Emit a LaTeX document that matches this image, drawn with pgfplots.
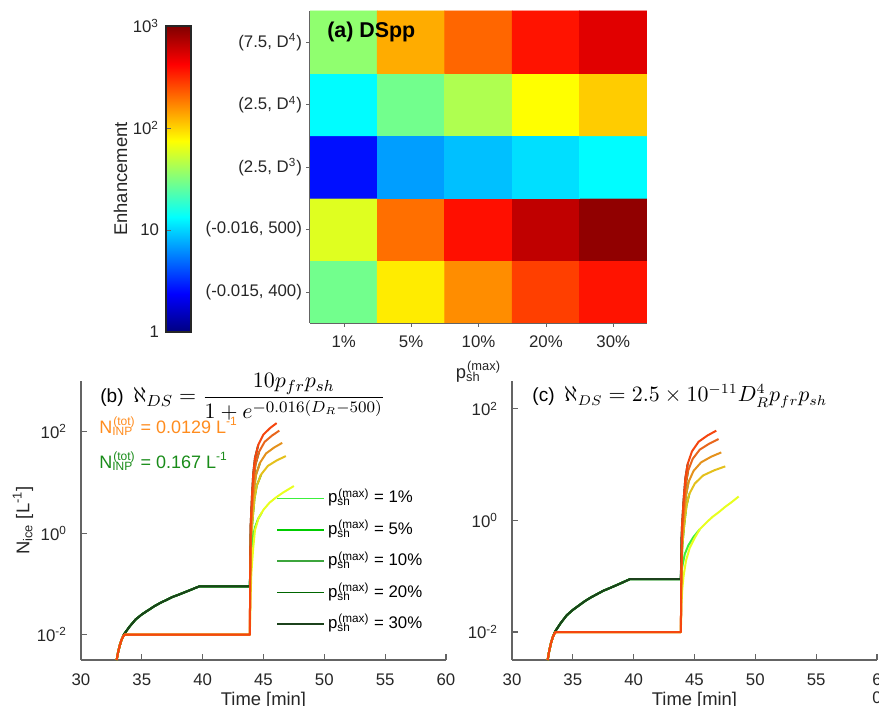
\documentclass[border=0pt]{standalone}
\usepackage[no-math]{fontspec}
\setmainfont{Liberation Sans}
\usepackage{pgfplots}
\pgfplotsset{compat=1.18}
\definecolor{tk}{RGB}{38,38,38}
\definecolor{axc}{RGB}{100,100,100}
\definecolor{g1}{RGB}{60,240,60}
\definecolor{g2}{RGB}{0,204,0}
\definecolor{g3}{RGB}{60,165,60}
\definecolor{g4}{RGB}{0,102,0}
\definecolor{g5}{RGB}{28,66,28}
\definecolor{o1}{RGB}{232,255,30}
\definecolor{o2}{RGB}{228,192,28}
\definecolor{o3}{RGB}{228,145,28}
\definecolor{o4}{RGB}{232,102,28}
\definecolor{o5}{RGB}{245,70,15}
\definecolor{ninpo}{RGB}{255,140,30}
\definecolor{ninpg}{RGB}{25,140,25}
\newcommand{\bfont}{\fontsize{8.4}{10}\selectfont}
\newcommand{\lfont}{\fontsize{9.2}{11}\selectfont}
\newcommand{\psh}{p\textsubscript{\rlap{sh}}\textsuperscript{(max)}}
\newcommand{\ninp}{N\textsubscript{\rlap{INP}}\textsuperscript{(tot)}}
\pgfplotsset{
  every axis/.append style={font=\bfont},
  mypanel/.style={scale only axis, width=182.5pt, height=139.5pt,
    xmin=30, xmax=60, ymin=0.0031623, clip=false,
    axis lines*=left, axis line style={axc, line width=0.6pt, -},
    tick align=inside, major tick length=3pt, tick style={axc, line width=0.6pt},
    xtick={30,35,...,60}, minor ytick={}, ytick={0.01,1,100},
    yticklabels={10\textsuperscript{-2},10\textsuperscript{0},10\textsuperscript{2}},
    /pgf/number format/assume math mode=true,
    ticklabel style={text=tk, font=\bfont},
    yticklabel style={xshift=-3.5pt},
    xticklabel style={yshift=-3.5pt},
    every axis x label/.style={at={(axis description cs:0.5,-0.133)},anchor=center,yshift=-2pt,font=\lfont,text=tk},
  },
}
\begin{document}
\begin{tikzpicture}
\useasboundingbox (0,0) rectangle (439.5pt,353pt);
% ---------------- (a) heat map ----------------
\begin{axis}[at={(155pt,191.5pt)}, anchor=south west, scale only axis,
  width=168.5pt, height=156pt,
  xmin=-0.5, xmax=4.5, ymin=-0.5, ymax=4.5, enlargelimits=false,
  axis lines*=left, axis line style={axc, line width=0.6pt, -},
  tick align=outside, major tick length=2pt, tick style={axc},
  xtick={0,1,2,3,4}, xticklabels={1\%,5\%,10\%,20\%,30\%},
  ytick={0,1,2,3,4},
  yticklabels={(-0.015, 400),(-0.016, 500),(2.5, D\textsuperscript{3}),(2.5, D\textsuperscript{4}),(7.5, D\textsuperscript{4})},
  ticklabel style={text=tk, font=\bfont},
  xticklabel style={yshift=-1pt},
  yticklabel style={xshift=1.5pt},
  xlabel={\psh},
  every axis x label/.style={at={(axis description cs:0.5,-0.157)},anchor=center,font=\lfont,text=tk},
  colormap/jet, point meta min=0, point meta max=3,
  colorbar,
  colorbar style={at={(parent axis.south west)}, anchor=south west,
    xshift=-80.5pt, yshift=-4.5pt, scale only axis, width=12.5pt, height=153pt,
    ytick={0,1,2,3}, yticklabels={1,10,10\textsuperscript{2},10\textsuperscript{3}},
    yticklabel pos=left, ytick pos=left, tick align=inside, major tick length=2.5pt,
    ticklabel style={text=tk, font=\bfont},
    axis line style={tk, line width=0.6pt},
    ylabel={Enhancement},
    every axis y label/.style={at={(axis description cs:-1.82,0.5)},rotate=90,anchor=center,font=\lfont,text=tk},
  },
]
\addplot[matrix plot*, mesh/cols=5, point meta=explicit] table[meta=L] {
x y L
0 0 1.46
1 0 1.93
2 0 2.21
3 0 2.44
4 0 2.57
0 1 1.78
1 1 2.30
2 1 2.58
3 1 2.81
4 1 2.95
0 2 0.42
1 2 0.84
2 2 0.94
3 2 1.03
4 2 1.12
0 3 1.12
1 3 1.46
2 3 1.64
3 3 1.875
4 3 2.025
0 4 1.55
1 4 2.12
2 4 2.325
3 4 2.57
4 4 2.715
};
\node[anchor=west, inner sep=0pt, font=\fontsize{10.7}{12}\selectfont\bfseries] at (rel axis cs:0.05,0.933) {(a) DSpp};
\end{axis}
% ---------------- (b) ----------------
\begin{axis}[ymode=log, mypanel, at={(40.5pt,23pt)}, anchor=south west, ymax=1000,
  xlabel={Time [min]}, ylabel={N\textsubscript{ice} [L\textsuperscript{-1}]},
  every axis y label/.style={at={(axis description cs:-0.159,0.5)},rotate=90,anchor=center,font=\lfont,text=tk},
  legend style={draw=none, fill=none, at={(rel axis cs:0.534,0.637)}, anchor=north west,
    inner sep=0pt, nodes={inner sep=1.6pt, text height=8.5pt, text depth=4pt, text=black}},
  legend cell align=left,
  legend image code/.code={\draw[#1, line width=0.8pt] (0pt,0pt) -- (23.5pt,0pt);},
  every axis plot/.append style={line width=1pt, line join=round},
]
\addplot[g1] coordinates {(32.93,0.00316) (33.05,0.0045) (33.2,0.0063) (33.35,0.0081) (33.55,0.0103) (34,0.0145) (34.5,0.02) (35,0.025) (35.5,0.03) (36,0.036) (36.5,0.042) (37,0.048) (37.5,0.055) (38,0.061) (38.5,0.068) (39,0.076) (39.7,0.089) (43.88,0.089)
 (43.92,0.2) (44.0,0.45) (44.15,0.9) (44.3,1.3) (44.55,1.9) (44.85,2.5)};
\addlegendentry{\psh{} = 1\%}
\addplot[g2] coordinates {(32.93,0.00316) (33.05,0.0045) (33.2,0.0063) (33.35,0.0081) (33.55,0.0103) (34,0.0145) (34.5,0.02) (35,0.025) (35.5,0.03) (36,0.036) (36.5,0.042) (37,0.048) (37.5,0.055) (38,0.061) (38.5,0.068) (39,0.076) (39.7,0.089) (43.88,0.089)
 (43.97,0.69) (44.11,1.97) (44.26,4.85) (44.45,8.69) (44.81,14.4)};
\addlegendentry{\psh{} = 5\%}
\addplot[g3] coordinates {(32.93,0.00316) (33.05,0.0045) (33.2,0.0063) (33.35,0.0081) (33.55,0.0103) (34,0.0145) (34.5,0.02) (35,0.025) (35.5,0.03) (36,0.036) (36.5,0.042) (37,0.048) (37.5,0.055) (38,0.061) (38.5,0.068) (39,0.076) (39.7,0.089) (43.88,0.089)
 (43.97,0.95) (44.08,2.92) (44.22,7.66) (44.39,14.3) (44.72,24.6)};
\addlegendentry{\psh{} = 10\%}
\addplot[g4] coordinates {(32.93,0.00316) (33.05,0.0045) (33.2,0.0063) (33.35,0.0081) (33.55,0.0103) (34,0.0145) (34.5,0.02) (35,0.025) (35.5,0.03) (36,0.036) (36.5,0.042) (37,0.048) (37.5,0.055) (38,0.061) (38.5,0.068) (39,0.076) (39.7,0.089) (43.88,0.089)
 (43.96,1.26) (44.07,4.18) (44.19,11.7) (44.34,22.7) (44.64,40.4)};
\addlegendentry{\psh{} = 20\%}
\addplot[g5] coordinates {(32.93,0.00316) (33.05,0.0045) (33.2,0.0063) (33.35,0.0081) (33.55,0.0103) (34,0.0145) (34.5,0.02) (35,0.025) (35.5,0.03) (36,0.036) (36.5,0.042) (37,0.048) (37.5,0.055) (38,0.061) (38.5,0.068) (39,0.076) (39.7,0.089) (43.88,0.089)
 (43.90,0.1) (43.95,1.51) (44.05,5.25) (44.16,15.1) (44.30,30.2) (44.57,55)};
\addlegendentry{\psh{} = 30\%}
\addplot[o1, forget plot] coordinates {(32.93,0.00316) (33.05,0.0045) (33.2,0.0063) (33.35,0.0081) (33.5,0.0095) (33.6,0.01) (43.88,0.01)
 (43.92,0.04) (44.0,0.16) (44.15,0.5) (44.3,1.15) (44.6,2.0) (45.0,2.9) (45.5,4.0) (46.0,5.0) (46.6,6.3) (47.0,7.2) (47.5,8.5)};
\addplot[o2, forget plot] coordinates {(32.93,0.00316) (33.05,0.0045) (33.2,0.0063) (33.35,0.0081) (33.5,0.0095) (33.6,0.01) (43.88,0.01)
 (43.91,0.070) (43.97,0.69) (44.11,1.97) (44.26,4.85) (44.45,8.69) (44.81,14.4) (45.36,21.2) (46.10,27.3) (46.84,33.1)};
\addplot[o3, forget plot] coordinates {(32.93,0.00316) (33.05,0.0045) (33.2,0.0063) (33.35,0.0081) (33.5,0.0095) (33.6,0.01) (43.88,0.01)
 (43.90,0.081) (43.97,0.95) (44.08,2.92) (44.22,7.66) (44.39,14.3) (44.72,24.6) (45.21,37.3) (45.88,48.9) (46.54,60.3)};
\addplot[o4, forget plot] coordinates {(32.93,0.00316) (33.05,0.0045) (33.2,0.0063) (33.35,0.0081) (33.5,0.0095) (33.6,0.01) (43.88,0.01)
 (43.90,0.092) (43.96,1.26) (44.07,4.18) (44.19,11.7) (44.34,22.7) (44.64,40.4) (45.09,63) (45.70,84) (46.30,105)};
\addplot[o5, forget plot] coordinates {(32.93,0.00316) (33.05,0.0045) (33.2,0.0063) (33.35,0.0081) (33.5,0.0095) (33.6,0.01) (43.88,0.01)
 (43.90,0.1) (43.95,1.51) (44.05,5.25) (44.16,15.1) (44.30,30.2) (44.57,55) (44.98,87) (45.53,117.5) (46.08,148)};
\node[anchor=west, inner sep=0pt, font=\fontsize{9.5}{11}\selectfont] at (rel axis cs:0.052,0.943) {(b)\hspace{0.5em}{\fontsize{11}{13}\selectfont$\displaystyle\aleph_{DS}=\frac{10p_{fr}p_{sh}}{1+e^{-0.016(D_R-500)}}$}};
\node[anchor=west, inner sep=0pt, text=ninpo, font=\fontsize{9}{11}\selectfont] at (rel axis cs:0.049,0.838) {\ninp{} = 0.0129 L\textsuperscript{-1}};
\node[anchor=west, inner sep=0pt, text=ninpg, font=\fontsize{9}{11}\selectfont] at (rel axis cs:0.049,0.713) {\ninp{} = 0.167 L\textsuperscript{-1}};
\end{axis}
% ---------------- (c) ----------------
\begin{axis}[ymode=log, mypanel, at={(256pt,23pt)}, anchor=south west, ymax=316.23,
  xlabel={Time [min]},
  xticklabels={30,35,40,45,50,55,{6\\[-1pt]0}}, xticklabel style={align=center},
  every axis plot/.append style={line width=1pt, line join=round},
]
\addplot[g1] coordinates {(32.93,0.00316) (33.05,0.0045) (33.2,0.0063) (33.35,0.0081) (33.55,0.0103) (34,0.0145) (34.5,0.02) (35,0.025) (35.5,0.03) (36,0.036) (36.5,0.042) (37,0.048) (37.5,0.055) (38,0.061) (38.5,0.068) (39,0.076) (39.7,0.089) (43.88,0.089)
 (43.93,0.12) (44.0,0.15) (44.2,0.25) (44.5,0.36) (44.9,0.5) (45.42,0.69)};
\addplot[g2] coordinates {(32.93,0.00316) (33.05,0.0045) (33.2,0.0063) (33.35,0.0081) (33.55,0.0103) (34,0.0145) (34.5,0.02) (35,0.025) (35.5,0.03) (36,0.036) (36.5,0.042) (37,0.048) (37.5,0.055) (38,0.061) (38.5,0.068) (39,0.076) (39.7,0.089) (43.88,0.089)
 (44.00,0.36) (44.16,0.86) (44.34,1.85) (44.58,3.02)};
\addplot[g3] coordinates {(32.93,0.00316) (33.05,0.0045) (33.2,0.0063) (33.35,0.0081) (33.55,0.0103) (34,0.0145) (34.5,0.02) (35,0.025) (35.5,0.03) (36,0.036) (36.5,0.042) (37,0.048) (37.5,0.055) (38,0.061) (38.5,0.068) (39,0.076) (39.7,0.089) (43.88,0.089)
 (43.99,0.48) (44.14,1.26) (44.30,2.86) (44.51,4.89)};
\addplot[g4] coordinates {(32.93,0.00316) (33.05,0.0045) (33.2,0.0063) (33.35,0.0081) (33.55,0.0103) (34,0.0145) (34.5,0.02) (35,0.025) (35.5,0.03) (36,0.036) (36.5,0.042) (37,0.048) (37.5,0.055) (38,0.061) (38.5,0.068) (39,0.076) (39.7,0.089) (43.88,0.089)
 (43.98,0.65) (44.12,1.80) (44.27,4.37) (44.47,7.74)};
\addplot[g5] coordinates {(32.93,0.00316) (33.05,0.0045) (33.2,0.0063) (33.35,0.0081) (33.55,0.0103) (34,0.0145) (34.5,0.02) (35,0.025) (35.5,0.03) (36,0.036) (36.5,0.042) (37,0.048) (37.5,0.055) (38,0.061) (38.5,0.068) (39,0.076) (39.7,0.089) (43.88,0.089)
 (43.93,0.5) (43.97,0.77) (44.10,2.26) (44.25,5.68) (44.44,10.3)};
\addplot[o1] coordinates {(32.93,0.00316) (33.05,0.0045) (33.2,0.0063) (33.35,0.0081) (33.5,0.0095) (33.6,0.01) (43.88,0.01)
 (43.92,0.03) (44.0,0.06) (44.1,0.1) (44.3,0.19) (44.6,0.32) (45.0,0.48) (45.42,0.69) (46.0,0.93) (46.5,1.17) (47.0,1.41) (47.5,1.74) (48.0,2.09) (48.63,2.69)};
\addplot[o2] coordinates {(32.93,0.00316) (33.05,0.0045) (33.2,0.0063) (33.35,0.0081) (33.5,0.0095) (33.6,0.01) (43.88,0.01)
 (43.91,0.052) (44.00,0.36) (44.16,0.86) (44.34,1.85) (44.58,3.02) (45.03,4.61) (45.71,6.41) (46.62,7.93) (47.53,9.33)};
\addplot[o3] coordinates {(32.93,0.00316) (33.05,0.0045) (33.2,0.0063) (33.35,0.0081) (33.5,0.0095) (33.6,0.01) (43.88,0.01)
 (43.91,0.059) (43.99,0.48) (44.14,1.26) (44.30,2.86) (44.51,4.89) (44.92,7.73) (45.54,11.0) (46.37,13.9) (47.20,16.6)};
\addplot[o4] coordinates {(32.93,0.00316) (33.05,0.0045) (33.2,0.0063) (33.35,0.0081) (33.5,0.0095) (33.6,0.01) (43.88,0.01)
 (43.91,0.068) (43.98,0.65) (44.12,1.80) (44.27,4.37) (44.47,7.74) (44.85,12.7) (45.43,18.6) (46.21,23.8) (46.98,28.8)};
\addplot[o5] coordinates {(32.93,0.00316) (33.05,0.0045) (33.2,0.0063) (33.35,0.0081) (33.5,0.0095) (33.6,0.01) (43.88,0.01)
 (43.91,0.073) (43.97,0.77) (44.10,2.26) (44.25,5.68) (44.44,10.3) (44.79,17.3) (45.34,25.8) (46.06,33.3) (46.79,40.7)};
\node[anchor=west, inner sep=0pt, font=\fontsize{9.5}{11}\selectfont] at (rel axis cs:0.055,0.945) {(c)\hspace{0.5em}{\fontsize{10.5}{12}\selectfont$\aleph_{DS}=2.5\times10^{-11}D_R^4p_{fr}p_{sh}$}};
\end{axis}
\end{tikzpicture}
\end{document}
